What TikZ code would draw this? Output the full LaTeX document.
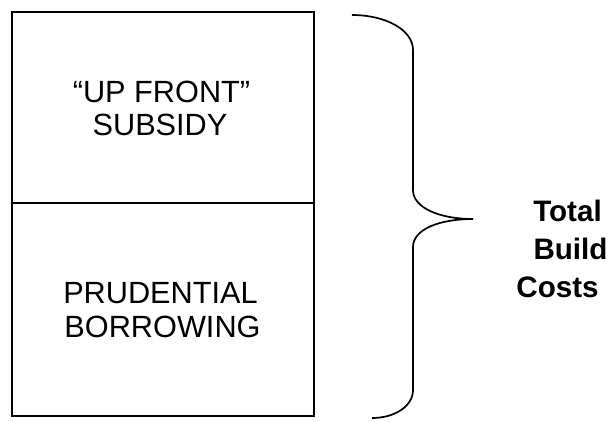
\documentclass[tikz,border=0pt]{standalone}
\usepackage{fontspec}
\setmainfont{Liberation Sans}
\begin{document}
\begin{tikzpicture}[x=1pt,y=-1pt,
  frame/.style={draw=black,line width=2pt},
  bracecurve/.style={draw=black,line width=1.7pt},
  boxtext/.style={inner sep=0pt,anchor=base,font=\fontsize{30.7}{34}\selectfont},
  sumtext/.style={inner sep=0pt,anchor=base,font=\fontsize{29.6}{38}\selectfont\bfseries}]
  \useasboundingbox (0,0) rectangle (611,421);

  % two stacked cost boxes
  \node[frame,minimum width=302pt,minimum height=191pt,inner sep=0pt,anchor=north west] (upper) at (11,11) {};
  \node[frame,minimum width=302pt,minimum height=213pt,inner sep=0pt,anchor=north west] (lower) at (11,202) {};

  \node[boxtext] (up1) at (161.5,102) {“UP FRONT”};
  \node[boxtext] (up2) at (160,135) {SUBSIDY};
  \node[boxtext] (pb1) at (160.5,303) {PRUDENTIAL};
  \node[boxtext] (pb2) at (162.5,337) {BORROWING};

  % curly brace spanning both boxes
  \coordinate (btop) at (352,15);
  \coordinate (tip) at (473,219);
  \coordinate (bbot) at (372,418);
  \path[bracecurve]
    (btop) .. controls (386,15) and (413,30) .. (413,50)
    -- (413,190)
    .. controls (413,208) and (440,219) .. (tip)
    .. controls (440,219) and (413,229) .. (413,247)
    -- (413,390)
    .. controls (413,406) and (395,418) .. (bbot);

  % label of the sum
  \node[sumtext] (s1) at (567.5,221) {Total};
  \node[sumtext] (s2) at (570.5,259) {Build};
  \node[sumtext] (s3) at (557.5,297) {Costs};
\end{tikzpicture}
\end{document}
